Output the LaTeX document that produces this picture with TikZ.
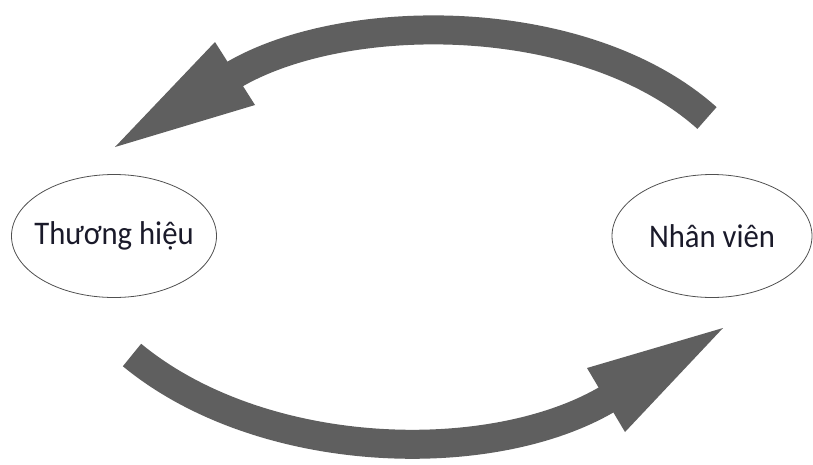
\documentclass[tikz,border=0pt]{standalone}
\usepackage{fontspec}
\setmainfont{Carlito}
\usetikzlibrary{shapes.geometric}
\definecolor{arrowgray}{HTML}{5F5F5F}
\definecolor{ovalline}{HTML}{505050}
\definecolor{labeltext}{HTML}{1A1A2A}
\newcommand{\ovaltext}[1]{\scalebox{0.93}[1]{#1}}
\begin{document}
\begin{tikzpicture}[x=1pt,y=-1pt,
  oval/.style={ellipse, draw=ovalline, line width=0.8pt,
    minimum height=123pt, inner xsep=-12pt, inner ysep=0pt, text=labeltext,
    font=\fontsize{33}{38}\selectfont},
  shaft/.style={draw=arrowgray, line width=29pt},
  headfill/.style={fill=arrowgray}]
\useasboundingbox (0,0) rectangle (813,464);

\node[oval, minimum width=205pt] (brand) at (114,236) {\ovaltext{Thương hiệu}};
\node[oval, minimum width=200pt] (staff) at (712,236) {\ovaltext{Nhân viên}};

% top arrow: staff -> brand
\coordinate (topTail) at (707,118);
\coordinate (topBase) at (230,77);
\coordinate (topTip)  at (115,147);
\coordinate (topBarbA) at (215,42);
\coordinate (topBarbB) at (255,105);
\draw[shaft] (topTail) .. controls (584,8) and (341,9) .. (topBase);
\fill[headfill] (topTip) -- (topBarbA) -- (topBarbB) -- cycle;

% bottom arrow: brand -> staff
\coordinate (botTail) at (132,355);
\coordinate (botBase) at (611,397);
\coordinate (botTip)  at (723,328);
\coordinate (botBarbA) at (587,368);
\coordinate (botBarbB) at (625,432);
\draw[shaft] (botTail) .. controls (263,463) and (495,468) .. (botBase);
\fill[headfill] (botTip) -- (botBarbA) -- (botBarbB) -- cycle;
\end{tikzpicture}
\end{document}
